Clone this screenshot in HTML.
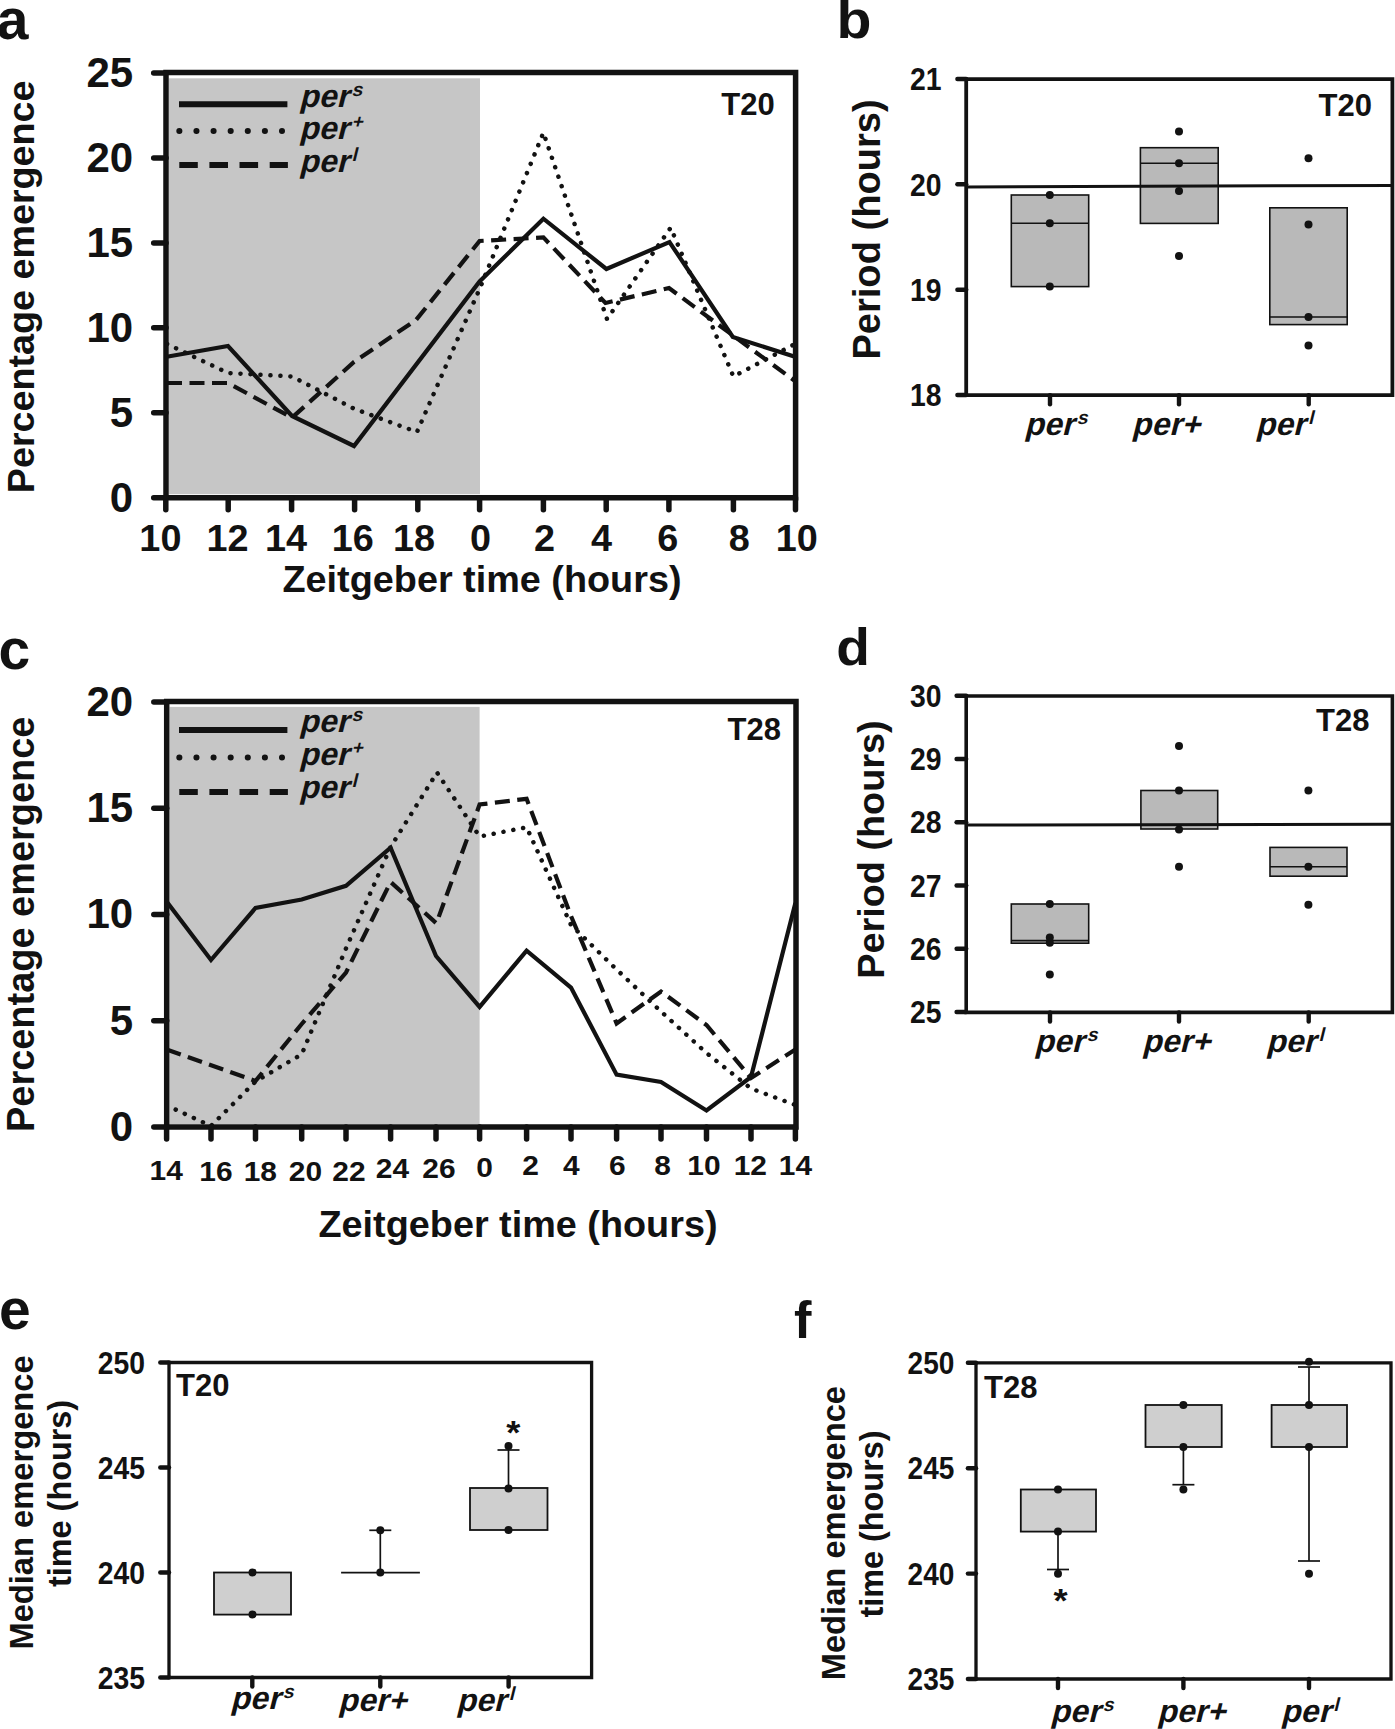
<!DOCTYPE html><html><head><meta charset="utf-8"><style>html,body{margin:0;padding:0;background:#fff;overflow:hidden;}svg{display:block;}text{font-family:"Liberation Sans", sans-serif;fill:#121212;}</style></head><body>
<svg width="1395" height="1729" viewBox="0 0 1395 1729">
<rect x="168.9" y="78.3" width="311.1" height="415.9" fill="#c6c6c6"/>
<polyline points="166.7,356.8 228.0,346.0 292.0,416.0 354.0,446.0 479.6,281.5 543.4,218.7 606.4,269.0 669.5,242.0 732.8,337.0 795.0,356.7" fill="none" stroke="#121212" stroke-width="4.2"/>
<polyline points="167.0,344.0 228.0,373.0 292.0,376.5 354.0,408.7 417.0,432.0 480.0,288.0 543.4,132.7 607.0,319.0 670.7,227.7 733.4,376.5 795.0,344.0" fill="none" stroke="#121212" stroke-width="4.5" stroke-dasharray="0.1 9.9" stroke-linecap="round"/>
<polyline points="167.0,383.0 228.0,383.0 292.0,417.7 354.0,362.0 416.0,320.0 479.6,241.0 543.4,237.4 605.5,303.0 669.0,288.0 733.4,335.8 795.0,381.0" fill="none" stroke="#121212" stroke-width="4.2" stroke-dasharray="15 7.5"/>
<path d="M166,72.4 H795.6 V497.7 H166 Z" fill="none" stroke="#121212" stroke-width="5.5"/>
<line x1="153.7" y1="497.7" x2="166" y2="497.7" stroke="#121212" stroke-width="5.5" stroke-linecap="round"/>
<line x1="153.7" y1="412.8" x2="166" y2="412.8" stroke="#121212" stroke-width="5.5" stroke-linecap="round"/>
<line x1="153.7" y1="327.8" x2="166" y2="327.8" stroke="#121212" stroke-width="5.5" stroke-linecap="round"/>
<line x1="153.7" y1="242.9" x2="166" y2="242.9" stroke="#121212" stroke-width="5.5" stroke-linecap="round"/>
<line x1="153.7" y1="157.9" x2="166" y2="157.9" stroke="#121212" stroke-width="5.5" stroke-linecap="round"/>
<line x1="153.7" y1="73.0" x2="166" y2="73.0" stroke="#121212" stroke-width="5.5" stroke-linecap="round"/>
<line x1="165.8" y1="497.7" x2="165.8" y2="509.7" stroke="#121212" stroke-width="5.5" stroke-linecap="round"/>
<line x1="228.2" y1="497.7" x2="228.2" y2="509.7" stroke="#121212" stroke-width="5.5" stroke-linecap="round"/>
<line x1="291.6" y1="497.7" x2="291.6" y2="509.7" stroke="#121212" stroke-width="5.5" stroke-linecap="round"/>
<line x1="354.6" y1="497.7" x2="354.6" y2="509.7" stroke="#121212" stroke-width="5.5" stroke-linecap="round"/>
<line x1="417.8" y1="497.7" x2="417.8" y2="509.7" stroke="#121212" stroke-width="5.5" stroke-linecap="round"/>
<line x1="479.6" y1="497.7" x2="479.6" y2="509.7" stroke="#121212" stroke-width="5.5" stroke-linecap="round"/>
<line x1="543.4" y1="497.7" x2="543.4" y2="509.7" stroke="#121212" stroke-width="5.5" stroke-linecap="round"/>
<line x1="606.2" y1="497.7" x2="606.2" y2="509.7" stroke="#121212" stroke-width="5.5" stroke-linecap="round"/>
<line x1="668.9" y1="497.7" x2="668.9" y2="509.7" stroke="#121212" stroke-width="5.5" stroke-linecap="round"/>
<line x1="733.4" y1="497.7" x2="733.4" y2="509.7" stroke="#121212" stroke-width="5.5" stroke-linecap="round"/>
<line x1="795.5" y1="497.7" x2="795.5" y2="509.7" stroke="#121212" stroke-width="5.5" stroke-linecap="round"/>
<line x1="179" y1="104.3" x2="287.4" y2="104.3" stroke="#121212" stroke-width="6"/>
<line x1="179.3" y1="131" x2="282" y2="131" stroke="#121212" stroke-width="6" stroke-dasharray="0.1 17.01" stroke-linecap="round"/>
<path d="M179.3,165.1 H197.8 M209.4,165.1 H228 M239.5,165.1 H258.1 M269.7,165.1 H287.9" stroke="#121212" stroke-width="6"/>
<text x="-3.2" y="38.9" font-size="57" font-weight="bold">a</text>
<text x="133.2" y="511.7" font-size="42" font-weight="bold" text-anchor="end">0</text>
<text x="133.2" y="426.8" font-size="42" font-weight="bold" text-anchor="end">5</text>
<text x="133.2" y="341.8" font-size="42" font-weight="bold" text-anchor="end">10</text>
<text x="133.2" y="256.9" font-size="42" font-weight="bold" text-anchor="end">15</text>
<text x="133.2" y="171.9" font-size="42" font-weight="bold" text-anchor="end">20</text>
<text x="133.2" y="87.0" font-size="42" font-weight="bold" text-anchor="end">25</text>
<text transform="translate(160.4,550.5) scale(1.05,1)" font-size="36" font-weight="bold" text-anchor="middle">10</text>
<text transform="translate(227.5,550.5) scale(1.05,1)" font-size="36" font-weight="bold" text-anchor="middle">12</text>
<text transform="translate(286,550.5) scale(1.05,1)" font-size="36" font-weight="bold" text-anchor="middle">14</text>
<text transform="translate(352.7,550.5) scale(1.05,1)" font-size="36" font-weight="bold" text-anchor="middle">16</text>
<text transform="translate(414,550.5) scale(1.05,1)" font-size="36" font-weight="bold" text-anchor="middle">18</text>
<text transform="translate(480.5,550.5) scale(1.05,1)" font-size="36" font-weight="bold" text-anchor="middle">0</text>
<text transform="translate(544.6,550.5) scale(1.05,1)" font-size="36" font-weight="bold" text-anchor="middle">2</text>
<text transform="translate(601.4,550.5) scale(1.05,1)" font-size="36" font-weight="bold" text-anchor="middle">4</text>
<text transform="translate(667.7,550.5) scale(1.05,1)" font-size="36" font-weight="bold" text-anchor="middle">6</text>
<text transform="translate(739.2,550.5) scale(1.05,1)" font-size="36" font-weight="bold" text-anchor="middle">8</text>
<text transform="translate(796.8,550.5) scale(1.05,1)" font-size="36" font-weight="bold" text-anchor="middle">10</text>
<text x="282.5" y="592.0" font-size="37.8" font-weight="bold">Zeitgeber time (hours)</text>
<text transform="translate(34.4,493.2) rotate(-90)" font-size="37.7" font-weight="bold">Percentage emergence</text>
<text x="774.7" y="114.7" font-size="31" font-weight="bold" text-anchor="end">T20</text>
<g transform="translate(299.0,106.9) scale(1.0,1) skewX(-14)"><text x="0" y="0" font-size="32" font-weight="bold">per<tspan font-size="19" dy="-11">s</tspan></text></g>
<g transform="translate(299.0,138.5) scale(1.0,1) skewX(-14)"><text x="0" y="0" font-size="32" font-weight="bold">per<tspan font-size="19" dy="-11">+</tspan></text></g>
<g transform="translate(299.0,171.6) scale(1.0,1) skewX(-14)"><text x="0" y="0" font-size="32" font-weight="bold">per<tspan font-size="19" dy="-11">l</tspan></text></g>
<path d="M966.2,79.2 H1392.4 V395.2 H966.2 Z" fill="none" stroke="#121212" stroke-width="3.8"/>
<line x1="957.4000000000001" y1="395.0" x2="966.2" y2="395.0" stroke="#121212" stroke-width="4.4" stroke-linecap="round"/>
<line x1="957.4000000000001" y1="289.7" x2="966.2" y2="289.7" stroke="#121212" stroke-width="4.4" stroke-linecap="round"/>
<line x1="957.4000000000001" y1="184.3" x2="966.2" y2="184.3" stroke="#121212" stroke-width="4.4" stroke-linecap="round"/>
<line x1="957.4000000000001" y1="79.0" x2="966.2" y2="79.0" stroke="#121212" stroke-width="4.4" stroke-linecap="round"/>
<line x1="1050" y1="395.2" x2="1050" y2="404.3" stroke="#121212" stroke-width="4.4" stroke-linecap="round"/>
<line x1="1179" y1="395.2" x2="1179" y2="404.3" stroke="#121212" stroke-width="4.4" stroke-linecap="round"/>
<line x1="1308.7" y1="395.2" x2="1308.7" y2="404.3" stroke="#121212" stroke-width="4.4" stroke-linecap="round"/>
<rect x="1011.3" y="195" width="77.40000000000009" height="91.60000000000002" fill="#b9b9b9" stroke="#121212" stroke-width="1.6"/>
<line x1="1011.3" y1="223.3" x2="1088.7" y2="223.3" stroke="#121212" stroke-width="1.6"/>
<rect x="1140.4" y="147.7" width="77.79999999999995" height="75.70000000000002" fill="#b9b9b9" stroke="#121212" stroke-width="1.6"/>
<line x1="1140.4" y1="163.2" x2="1218.2" y2="163.2" stroke="#121212" stroke-width="1.6"/>
<rect x="1269.8" y="207.8" width="77.40000000000009" height="116.80000000000001" fill="#b9b9b9" stroke="#121212" stroke-width="1.6"/>
<line x1="1269.8" y1="317" x2="1347.2" y2="317" stroke="#121212" stroke-width="1.6"/>
<line x1="966" y1="186.9" x2="1392" y2="185.4" stroke="#121212" stroke-width="3"/>
<circle cx="1049.8" cy="195" r="4" fill="#121212"/>
<circle cx="1049.8" cy="223.2" r="4" fill="#121212"/>
<circle cx="1049.8" cy="286.5" r="4" fill="#121212"/>
<circle cx="1179" cy="131.5" r="4" fill="#121212"/>
<circle cx="1179" cy="163.2" r="4" fill="#121212"/>
<circle cx="1179" cy="190.9" r="4" fill="#121212"/>
<circle cx="1179" cy="256" r="4" fill="#121212"/>
<circle cx="1308.5" cy="158.3" r="4" fill="#121212"/>
<circle cx="1308.5" cy="224.4" r="4" fill="#121212"/>
<circle cx="1308.5" cy="317" r="4" fill="#121212"/>
<circle cx="1308.5" cy="345.6" r="4" fill="#121212"/>
<text transform="translate(836.6,37.8) scale(1.09,1)" font-size="52.5" font-weight="bold">b</text>
<text transform="translate(941.5,406.2) scale(0.9,1)" font-size="31.5" font-weight="bold" text-anchor="end">18</text>
<text transform="translate(941.5,300.9) scale(0.9,1)" font-size="31.5" font-weight="bold" text-anchor="end">19</text>
<text transform="translate(941.5,195.5) scale(0.9,1)" font-size="31.5" font-weight="bold" text-anchor="end">20</text>
<text transform="translate(941.5,90.2) scale(0.9,1)" font-size="31.5" font-weight="bold" text-anchor="end">21</text>
<text x="1372.0" y="115.5" font-size="31" font-weight="bold" text-anchor="end">T20</text>
<text transform="translate(879.6,359.6) rotate(-90)" font-size="38.1" font-weight="bold">Period (hours)</text>
<g transform="translate(1024.2,434.8) scale(1.0,1) skewX(-14)"><text x="0" y="0" font-size="32" font-weight="bold">per<tspan font-size="19" dy="-11">s</tspan></text></g>
<g transform="translate(1131.6,434.8) scale(1.0,1) skewX(-14)"><text x="0" y="0" font-size="32" font-weight="bold">per+</text></g>
<g transform="translate(1255.4,434.8) scale(1.0,1) skewX(-14)"><text x="0" y="0" font-size="32" font-weight="bold">per<tspan font-size="19" dy="-11">l</tspan></text></g>
<rect x="169.5" y="706.9" width="310.1" height="417.1" fill="#c6c6c6"/>
<polyline points="166.6,901.4 211.0,960.0 255.5,908.0 301.7,899.5 346.0,885.8 390.6,847.7 436.0,956.0 479.6,1006.9 526.6,950.6 571.0,987.6 616.6,1074.6 661.0,1082.0 706.5,1110.5 751.0,1077.0 795.4,903.0" fill="none" stroke="#121212" stroke-width="4.2"/>
<polyline points="166.6,1105.4 211.0,1126.0 255.5,1081.5 301.7,1054.3 346.0,948.5 390.6,847.0 437.0,772.5 479.6,836.5 526.6,827.3 571.0,925.0 616.6,969.5 661.0,1011.5 706.5,1053.0 751.0,1088.5 795.4,1105.0" fill="none" stroke="#121212" stroke-width="4.5" stroke-dasharray="0.1 9.9" stroke-linecap="round"/>
<polyline points="166.6,1049.5 255.5,1081.0 301.7,1024.0 346.0,972.5 390.6,882.0 436.4,923.3 479.6,804.5 526.6,798.8 571.0,916.0 616.6,1023.4 661.0,991.5 706.5,1025.0 751.0,1078.0 795.4,1049.5" fill="none" stroke="#121212" stroke-width="4.2" stroke-dasharray="15 7.5"/>
<path d="M166.7,701.6 H796 V1126.9 H166.7 Z" fill="none" stroke="#121212" stroke-width="5.5"/>
<line x1="153.79999999999998" y1="1126.9" x2="166.7" y2="1126.9" stroke="#121212" stroke-width="5.5" stroke-linecap="round"/>
<line x1="153.79999999999998" y1="1020.7" x2="166.7" y2="1020.7" stroke="#121212" stroke-width="5.5" stroke-linecap="round"/>
<line x1="153.79999999999998" y1="914.4" x2="166.7" y2="914.4" stroke="#121212" stroke-width="5.5" stroke-linecap="round"/>
<line x1="153.79999999999998" y1="808.2" x2="166.7" y2="808.2" stroke="#121212" stroke-width="5.5" stroke-linecap="round"/>
<line x1="153.79999999999998" y1="701.9" x2="166.7" y2="701.9" stroke="#121212" stroke-width="5.5" stroke-linecap="round"/>
<line x1="166.6" y1="1126.9" x2="166.6" y2="1139.1000000000001" stroke="#121212" stroke-width="5.5" stroke-linecap="round"/>
<line x1="211" y1="1126.9" x2="211" y2="1139.1000000000001" stroke="#121212" stroke-width="5.5" stroke-linecap="round"/>
<line x1="255.5" y1="1126.9" x2="255.5" y2="1139.1000000000001" stroke="#121212" stroke-width="5.5" stroke-linecap="round"/>
<line x1="301.7" y1="1126.9" x2="301.7" y2="1139.1000000000001" stroke="#121212" stroke-width="5.5" stroke-linecap="round"/>
<line x1="346" y1="1126.9" x2="346" y2="1139.1000000000001" stroke="#121212" stroke-width="5.5" stroke-linecap="round"/>
<line x1="390.6" y1="1126.9" x2="390.6" y2="1139.1000000000001" stroke="#121212" stroke-width="5.5" stroke-linecap="round"/>
<line x1="436" y1="1126.9" x2="436" y2="1139.1000000000001" stroke="#121212" stroke-width="5.5" stroke-linecap="round"/>
<line x1="479.6" y1="1126.9" x2="479.6" y2="1139.1000000000001" stroke="#121212" stroke-width="5.5" stroke-linecap="round"/>
<line x1="526.6" y1="1126.9" x2="526.6" y2="1139.1000000000001" stroke="#121212" stroke-width="5.5" stroke-linecap="round"/>
<line x1="571" y1="1126.9" x2="571" y2="1139.1000000000001" stroke="#121212" stroke-width="5.5" stroke-linecap="round"/>
<line x1="616.6" y1="1126.9" x2="616.6" y2="1139.1000000000001" stroke="#121212" stroke-width="5.5" stroke-linecap="round"/>
<line x1="661" y1="1126.9" x2="661" y2="1139.1000000000001" stroke="#121212" stroke-width="5.5" stroke-linecap="round"/>
<line x1="706.5" y1="1126.9" x2="706.5" y2="1139.1000000000001" stroke="#121212" stroke-width="5.5" stroke-linecap="round"/>
<line x1="751" y1="1126.9" x2="751" y2="1139.1000000000001" stroke="#121212" stroke-width="5.5" stroke-linecap="round"/>
<line x1="795.4" y1="1126.9" x2="795.4" y2="1139.1000000000001" stroke="#121212" stroke-width="5.5" stroke-linecap="round"/>
<line x1="179" y1="730.1" x2="287.4" y2="730.1" stroke="#121212" stroke-width="6"/>
<line x1="179.3" y1="757.5" x2="282" y2="757.5" stroke="#121212" stroke-width="6" stroke-dasharray="0.1 17.01" stroke-linecap="round"/>
<path d="M179.3,792.1 H197.8 M209.4,792.1 H228 M239.5,792.1 H258.1 M269.7,792.1 H287.9" stroke="#121212" stroke-width="6"/>
<text x="-1.4" y="668.9" font-size="57" font-weight="bold">c</text>
<text x="133.2" y="1140.9" font-size="42" font-weight="bold" text-anchor="end">0</text>
<text x="133.2" y="1034.7" font-size="42" font-weight="bold" text-anchor="end">5</text>
<text x="133.2" y="928.4" font-size="42" font-weight="bold" text-anchor="end">10</text>
<text x="133.2" y="822.2" font-size="42" font-weight="bold" text-anchor="end">15</text>
<text x="133.2" y="715.9" font-size="42" font-weight="bold" text-anchor="end">20</text>
<text transform="translate(166.2,1180.2) scale(1.08,1)" font-size="27.7" font-weight="bold" text-anchor="middle">14</text>
<text transform="translate(215.9,1181) scale(1.08,1)" font-size="27.7" font-weight="bold" text-anchor="middle">16</text>
<text transform="translate(260.3,1181) scale(1.08,1)" font-size="27.7" font-weight="bold" text-anchor="middle">18</text>
<text transform="translate(305.4,1181) scale(1.08,1)" font-size="27.7" font-weight="bold" text-anchor="middle">20</text>
<text transform="translate(349,1181) scale(1.08,1)" font-size="27.7" font-weight="bold" text-anchor="middle">22</text>
<text transform="translate(392.5,1177.8) scale(1.08,1)" font-size="27.7" font-weight="bold" text-anchor="middle">24</text>
<text transform="translate(439,1177.8) scale(1.08,1)" font-size="27.7" font-weight="bold" text-anchor="middle">26</text>
<text transform="translate(484.5,1177.4) scale(1.08,1)" font-size="27.7" font-weight="bold" text-anchor="middle">0</text>
<text transform="translate(530.5,1174.8) scale(1.08,1)" font-size="27.7" font-weight="bold" text-anchor="middle">2</text>
<text transform="translate(571.2,1174.8) scale(1.08,1)" font-size="27.7" font-weight="bold" text-anchor="middle">4</text>
<text transform="translate(617.4,1174.8) scale(1.08,1)" font-size="27.7" font-weight="bold" text-anchor="middle">6</text>
<text transform="translate(662.6,1174.8) scale(1.08,1)" font-size="27.7" font-weight="bold" text-anchor="middle">8</text>
<text transform="translate(703.9,1174.8) scale(1.08,1)" font-size="27.7" font-weight="bold" text-anchor="middle">10</text>
<text transform="translate(750.3,1174.8) scale(1.08,1)" font-size="27.7" font-weight="bold" text-anchor="middle">12</text>
<text transform="translate(795.5,1174.8) scale(1.08,1)" font-size="27.7" font-weight="bold" text-anchor="middle">14</text>
<text x="318.5" y="1236.6" font-size="37.8" font-weight="bold">Zeitgeber time (hours)</text>
<text transform="translate(34.4,1132) rotate(-90)" font-size="37.95" font-weight="bold">Percentage emergence</text>
<text x="781.0" y="740.0" font-size="31" font-weight="bold" text-anchor="end">T28</text>
<g transform="translate(299.0,732.4) scale(1.0,1) skewX(-14)"><text x="0" y="0" font-size="32" font-weight="bold">per<tspan font-size="19" dy="-11">s</tspan></text></g>
<g transform="translate(299.0,764.7) scale(1.0,1) skewX(-14)"><text x="0" y="0" font-size="32" font-weight="bold">per<tspan font-size="19" dy="-11">+</tspan></text></g>
<g transform="translate(299.0,797.8) scale(1.0,1) skewX(-14)"><text x="0" y="0" font-size="32" font-weight="bold">per<tspan font-size="19" dy="-11">l</tspan></text></g>
<path d="M966.2,696 H1392.4 V1012.4 H966.2 Z" fill="none" stroke="#121212" stroke-width="3.6"/>
<line x1="956.6" y1="1012.0" x2="966.2" y2="1012.0" stroke="#121212" stroke-width="4.4" stroke-linecap="round"/>
<line x1="956.6" y1="948.7" x2="966.2" y2="948.7" stroke="#121212" stroke-width="4.4" stroke-linecap="round"/>
<line x1="956.6" y1="885.5" x2="966.2" y2="885.5" stroke="#121212" stroke-width="4.4" stroke-linecap="round"/>
<line x1="956.6" y1="822.2" x2="966.2" y2="822.2" stroke="#121212" stroke-width="4.4" stroke-linecap="round"/>
<line x1="956.6" y1="759.0" x2="966.2" y2="759.0" stroke="#121212" stroke-width="4.4" stroke-linecap="round"/>
<line x1="956.6" y1="695.7" x2="966.2" y2="695.7" stroke="#121212" stroke-width="4.4" stroke-linecap="round"/>
<line x1="1050" y1="1012.4" x2="1050" y2="1021.5" stroke="#121212" stroke-width="4.4" stroke-linecap="round"/>
<line x1="1179" y1="1012.4" x2="1179" y2="1021.5" stroke="#121212" stroke-width="4.4" stroke-linecap="round"/>
<line x1="1308.7" y1="1012.4" x2="1308.7" y2="1021.5" stroke="#121212" stroke-width="4.4" stroke-linecap="round"/>
<rect x="1011.3" y="904" width="77.40000000000009" height="39.200000000000045" fill="#b9b9b9" stroke="#121212" stroke-width="1.6"/>
<line x1="1011.3" y1="940.6" x2="1088.7" y2="940.6" stroke="#121212" stroke-width="1.6"/>
<rect x="1140.9" y="790.5" width="76.79999999999995" height="38.5" fill="#b9b9b9" stroke="#121212" stroke-width="1.6"/>
<line x1="1140.9" y1="825" x2="1217.7" y2="825" stroke="#121212" stroke-width="1.6"/>
<rect x="1270" y="847.4" width="77" height="28.800000000000068" fill="#b9b9b9" stroke="#121212" stroke-width="1.6"/>
<line x1="1270" y1="866.8" x2="1347" y2="866.8" stroke="#121212" stroke-width="1.6"/>
<line x1="966" y1="825" x2="1392" y2="824.2" stroke="#121212" stroke-width="3"/>
<circle cx="1049.8" cy="904" r="4" fill="#121212"/>
<circle cx="1049.8" cy="937.5" r="4" fill="#121212"/>
<circle cx="1049.8" cy="942.8" r="4" fill="#121212"/>
<circle cx="1049.8" cy="974.6" r="4" fill="#121212"/>
<circle cx="1179" cy="746" r="4" fill="#121212"/>
<circle cx="1179" cy="790.5" r="4" fill="#121212"/>
<circle cx="1179" cy="829.4" r="4" fill="#121212"/>
<circle cx="1179" cy="866.7" r="4" fill="#121212"/>
<circle cx="1308.4" cy="790.5" r="4" fill="#121212"/>
<circle cx="1308.4" cy="866.8" r="4" fill="#121212"/>
<circle cx="1308.4" cy="904.7" r="4" fill="#121212"/>
<text transform="translate(836.3,665.2) scale(1.05,1)" font-size="52.5" font-weight="bold">d</text>
<text transform="translate(941.5,1023.2) scale(0.9,1)" font-size="31.5" font-weight="bold" text-anchor="end">25</text>
<text transform="translate(941.5,959.9) scale(0.9,1)" font-size="31.5" font-weight="bold" text-anchor="end">26</text>
<text transform="translate(941.5,896.7) scale(0.9,1)" font-size="31.5" font-weight="bold" text-anchor="end">27</text>
<text transform="translate(941.5,833.4) scale(0.9,1)" font-size="31.5" font-weight="bold" text-anchor="end">28</text>
<text transform="translate(941.5,770.2) scale(0.9,1)" font-size="31.5" font-weight="bold" text-anchor="end">29</text>
<text transform="translate(941.5,706.9) scale(0.9,1)" font-size="31.5" font-weight="bold" text-anchor="end">30</text>
<text x="1369.5" y="731.0" font-size="31" font-weight="bold" text-anchor="end">T28</text>
<text transform="translate(884.3,978.7) rotate(-90)" font-size="37.8" font-weight="bold">Period (hours)</text>
<g transform="translate(1034.2,1052.1) scale(1.0,1) skewX(-14)"><text x="0" y="0" font-size="32" font-weight="bold">per<tspan font-size="19" dy="-11">s</tspan></text></g>
<g transform="translate(1142.0,1052.1) scale(1.0,1) skewX(-14)"><text x="0" y="0" font-size="32" font-weight="bold">per+</text></g>
<g transform="translate(1265.9,1052.1) scale(1.0,1) skewX(-14)"><text x="0" y="0" font-size="32" font-weight="bold">per<tspan font-size="19" dy="-11">l</tspan></text></g>
<path d="M169,1362.5 H591.6 V1677.5 H169 Z" fill="none" stroke="#121212" stroke-width="3.3"/>
<line x1="160.3" y1="1677.5" x2="169" y2="1677.5" stroke="#121212" stroke-width="4.4" stroke-linecap="round"/>
<line x1="160.3" y1="1572.5" x2="169" y2="1572.5" stroke="#121212" stroke-width="4.4" stroke-linecap="round"/>
<line x1="160.3" y1="1467.5" x2="169" y2="1467.5" stroke="#121212" stroke-width="4.4" stroke-linecap="round"/>
<line x1="160.3" y1="1362.5" x2="169" y2="1362.5" stroke="#121212" stroke-width="4.4" stroke-linecap="round"/>
<line x1="252.3" y1="1677.5" x2="252.3" y2="1686.6" stroke="#121212" stroke-width="4.4" stroke-linecap="round"/>
<line x1="380.3" y1="1677.5" x2="380.3" y2="1686.6" stroke="#121212" stroke-width="4.4" stroke-linecap="round"/>
<line x1="508.6" y1="1677.5" x2="508.6" y2="1686.6" stroke="#121212" stroke-width="4.4" stroke-linecap="round"/>
<rect x="214" y="1572.5" width="77" height="42.09999999999991" fill="#cfcfcf" stroke="#121212" stroke-width="1.8"/>
<circle cx="252.5" cy="1572.4" r="4" fill="#121212"/>
<circle cx="252.5" cy="1614.5" r="4" fill="#121212"/>
<line x1="341.1" y1="1572.6" x2="419.9" y2="1572.6" stroke="#121212" stroke-width="1.8"/>
<line x1="380.3" y1="1572.5" x2="380.3" y2="1530.3" stroke="#121212" stroke-width="1.7"/>
<line x1="369.3" y1="1530.3" x2="391.3" y2="1530.3" stroke="#121212" stroke-width="1.7"/>
<circle cx="380.3" cy="1530.3" r="4" fill="#121212"/>
<circle cx="380.3" cy="1572.4" r="4" fill="#121212"/>
<rect x="470" y="1488" width="77.5" height="42" fill="#cfcfcf" stroke="#121212" stroke-width="1.8"/>
<line x1="508.5" y1="1488" x2="508.5" y2="1450" stroke="#121212" stroke-width="1.7"/>
<line x1="497.5" y1="1450" x2="519.5" y2="1450" stroke="#121212" stroke-width="1.7"/>
<circle cx="508.5" cy="1446" r="4" fill="#121212"/>
<circle cx="508.5" cy="1488.6" r="4" fill="#121212"/>
<circle cx="508.5" cy="1530" r="4" fill="#121212"/>
<text transform="translate(506.3,1443.6) scale(1.1,1)" font-size="33" font-weight="bold">*</text>
<text x="-0.9" y="1328.9" font-size="57" font-weight="bold">e</text>
<text transform="translate(145,1688.7) scale(0.9,1)" font-size="31.5" font-weight="bold" text-anchor="end">235</text>
<text transform="translate(145,1583.7) scale(0.9,1)" font-size="31.5" font-weight="bold" text-anchor="end">240</text>
<text transform="translate(145,1478.7) scale(0.9,1)" font-size="31.5" font-weight="bold" text-anchor="end">245</text>
<text transform="translate(145,1373.7) scale(0.9,1)" font-size="31.5" font-weight="bold" text-anchor="end">250</text>
<text x="176.0" y="1396.0" font-size="31" font-weight="bold">T20</text>
<text transform="translate(33,1649.6) rotate(-90)" font-size="32.7" font-weight="bold">Median emergence</text>
<text transform="translate(70.8,1587) rotate(-90)" font-size="32.4" font-weight="bold">time (hours)</text>
<g transform="translate(230.3,1708.7) scale(1.0,1) skewX(-14)"><text x="0" y="0" font-size="32" font-weight="bold">per<tspan font-size="19" dy="-11">s</tspan></text></g>
<g transform="translate(338.1,1711.0) scale(1.0,1) skewX(-14)"><text x="0" y="0" font-size="32" font-weight="bold">per+</text></g>
<g transform="translate(456.2,1711.0) scale(1.0,1) skewX(-14)"><text x="0" y="0" font-size="32" font-weight="bold">per<tspan font-size="19" dy="-11">l</tspan></text></g>
<path d="M976,1362.8 H1391 V1679 H976 Z" fill="none" stroke="#121212" stroke-width="3.3"/>
<line x1="967.9" y1="1679.0" x2="976" y2="1679.0" stroke="#121212" stroke-width="4.4" stroke-linecap="round"/>
<line x1="967.9" y1="1573.6" x2="976" y2="1573.6" stroke="#121212" stroke-width="4.4" stroke-linecap="round"/>
<line x1="967.9" y1="1468.2" x2="976" y2="1468.2" stroke="#121212" stroke-width="4.4" stroke-linecap="round"/>
<line x1="967.9" y1="1362.8" x2="976" y2="1362.8" stroke="#121212" stroke-width="4.4" stroke-linecap="round"/>
<line x1="1058" y1="1679" x2="1058" y2="1688.1" stroke="#121212" stroke-width="4.4" stroke-linecap="round"/>
<line x1="1183.4" y1="1679" x2="1183.4" y2="1688.1" stroke="#121212" stroke-width="4.4" stroke-linecap="round"/>
<line x1="1309" y1="1679" x2="1309" y2="1688.1" stroke="#121212" stroke-width="4.4" stroke-linecap="round"/>
<rect x="1020.8" y="1489.5" width="75.20000000000005" height="42.09999999999991" fill="#cfcfcf" stroke="#121212" stroke-width="1.8"/>
<line x1="1058" y1="1531.6" x2="1058" y2="1569.5" stroke="#121212" stroke-width="1.7"/>
<line x1="1047" y1="1569.5" x2="1069" y2="1569.5" stroke="#121212" stroke-width="1.7"/>
<circle cx="1058" cy="1489.5" r="4" fill="#121212"/>
<circle cx="1058" cy="1531.6" r="4" fill="#121212"/>
<circle cx="1058" cy="1573.8" r="4" fill="#121212"/>
<text transform="translate(1053.4,1611.5) scale(1.1,1)" font-size="33" font-weight="bold">*</text>
<rect x="1145.5" y="1405" width="76.20000000000005" height="42" fill="#cfcfcf" stroke="#121212" stroke-width="1.8"/>
<line x1="1183.4" y1="1447" x2="1183.4" y2="1484.7" stroke="#121212" stroke-width="1.7"/>
<line x1="1172.4" y1="1484.7" x2="1194.4" y2="1484.7" stroke="#121212" stroke-width="1.7"/>
<circle cx="1183.4" cy="1405" r="4" fill="#121212"/>
<circle cx="1183.4" cy="1447" r="4" fill="#121212"/>
<circle cx="1183.4" cy="1489.5" r="4" fill="#121212"/>
<rect x="1271.6" y="1405" width="75.40000000000009" height="42" fill="#cfcfcf" stroke="#121212" stroke-width="1.8"/>
<line x1="1309" y1="1405" x2="1309" y2="1367" stroke="#121212" stroke-width="1.7"/>
<line x1="1298" y1="1367" x2="1320" y2="1367" stroke="#121212" stroke-width="1.7"/>
<line x1="1309" y1="1447" x2="1309" y2="1561" stroke="#121212" stroke-width="1.7"/>
<line x1="1298" y1="1561" x2="1320" y2="1561" stroke="#121212" stroke-width="1.7"/>
<circle cx="1309" cy="1361.7" r="4" fill="#121212"/>
<circle cx="1309" cy="1405" r="4" fill="#121212"/>
<circle cx="1309" cy="1447" r="4" fill="#121212"/>
<circle cx="1309" cy="1573.8" r="4" fill="#121212"/>
<text x="794.0" y="1338.4" font-size="52.5" font-weight="bold">f</text>
<text transform="translate(954.3,1690.2) scale(0.89,1)" font-size="31.5" font-weight="bold" text-anchor="end">235</text>
<text transform="translate(954.3,1584.8) scale(0.89,1)" font-size="31.5" font-weight="bold" text-anchor="end">240</text>
<text transform="translate(954.3,1479.4) scale(0.89,1)" font-size="31.5" font-weight="bold" text-anchor="end">245</text>
<text transform="translate(954.3,1374.0) scale(0.89,1)" font-size="31.5" font-weight="bold" text-anchor="end">250</text>
<text x="984.0" y="1398.0" font-size="31" font-weight="bold">T28</text>
<text transform="translate(844.5,1680.3) rotate(-90)" font-size="32.7" font-weight="bold">Median emergence</text>
<text transform="translate(883,1617.6) rotate(-90)" font-size="32.4" font-weight="bold">time (hours)</text>
<g transform="translate(1050.3,1721.7) scale(1.0,1) skewX(-14)"><text x="0" y="0" font-size="32" font-weight="bold">per<tspan font-size="19" dy="-11">s</tspan></text></g>
<g transform="translate(1157.0,1721.7) scale(1.0,1) skewX(-14)"><text x="0" y="0" font-size="32" font-weight="bold">per+</text></g>
<g transform="translate(1280.8,1721.7) scale(1.0,1) skewX(-14)"><text x="0" y="0" font-size="32" font-weight="bold">per<tspan font-size="19" dy="-11">l</tspan></text></g>
</svg></body></html>
